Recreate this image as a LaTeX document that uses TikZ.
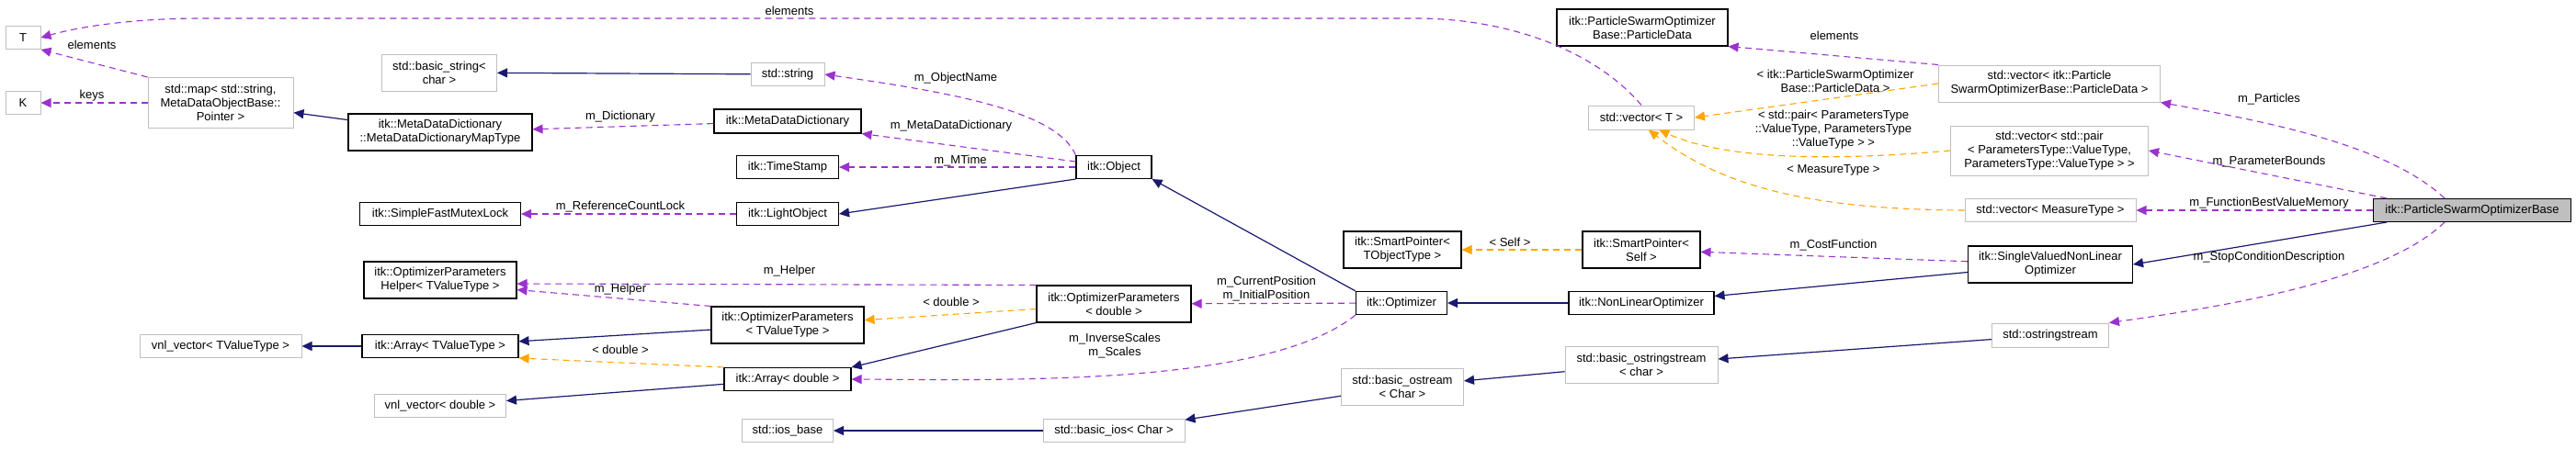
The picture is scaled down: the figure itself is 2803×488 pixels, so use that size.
\documentclass[tikz,border=0pt]{standalone}
\usepackage{fontspec}
\setmainfont{Liberation Sans}
\usetikzlibrary{arrows.meta}
\definecolor{navy}{HTML}{191970}
\definecolor{purp}{HTML}{9A32CD}
\definecolor{orng}{HTML}{FFA500}
\definecolor{gbord}{HTML}{BFBFBF}
\begin{document}
\begin{tikzpicture}[x=1pt,y=-1pt,
  every node/.style={font=\fontsize{13}{15}\selectfont, inner sep=0pt, align=center},
  ext/.style={draw=gbord, line width=1pt, fill=white},
  doc/.style={draw=black, line width=1.1pt, fill=white},
  lab/.style={fill=none},
  tip/.style={-{Triangle[length=11pt,width=10pt]}},
  inh/.style={navy, line width=1.2pt, tip},
  use/.style={purp, line width=1.1pt, dash pattern=on 7pt off 5pt, tip},
  tpl/.style={orng, line width=1.1pt, dash pattern=on 7pt off 5pt, tip}]
\useasboundingbox (0,0) rectangle (2803,488);
% nodes
\node[ext, minimum width=38, minimum height=25] (T) at (25,41) {T};
\node[ext, minimum width=38, minimum height=25] (K) at (25,112) {K};
\node[ext, minimum width=158, minimum height=55] (map) at (240,112) {std::map\textless{} std::string,\\MetaDataObjectBase::\\Pointer \textgreater{}};
\node[ext, minimum width=125, minimum height=40] (bstr) at (478,79) {std::basic\_string\textless{}\\char \textgreater{}};
\node[ext, minimum width=80, minimum height=25] (str) at (857,81) {std::string};
\node[doc, minimum width=200, minimum height=40] (mapt) at (479,144) {itk::MetaDataDictionary\\::MetaDataDictionaryMapType};
\node[doc, minimum width=160, minimum height=26] (mdd) at (857,132) {itk::MetaDataDictionary};
\node[doc, minimum width=111, minimum height=25] (ts) at (857,182) {itk::TimeStamp};
\node[doc, minimum width=175, minimum height=25] (mutex) at (479,233) {itk::SimpleFastMutexLock};
\node[doc, minimum width=111, minimum height=25] (lo) at (857,233) {itk::LightObject};
\node[doc, minimum width=166, minimum height=40] (oph) at (479,305) {itk::OptimizerParameters\\Helper\textless{} TValueType \textgreater{}};
\node[doc, minimum width=166, minimum height=40] (opt) at (857,354) {itk::OptimizerParameters\\\textless{} TValueType \textgreater{}};
\node[ext, minimum width=176, minimum height=25] (vnlt) at (240,377) {vnl\_vector\textless{} TValueType \textgreater{}};
\node[doc, minimum width=170, minimum height=25] (arrt) at (479,377) {itk::Array\textless{} TValueType \textgreater{}};
\node[doc, minimum width=138, minimum height=25] (arrd) at (857,413) {itk::Array\textless{} double \textgreater{}};
\node[ext, minimum width=143, minimum height=25] (vnld) at (479,442) {vnl\_vector\textless{} double \textgreater{}};
\node[ext, minimum width=99, minimum height=25] (iosb) at (857,469) {std::ios\_base};
\node[doc, minimum width=82, minimum height=25] (obj) at (1212,182) {itk::Object};
\node[doc, minimum width=168, minimum height=40] (opd) at (1212,331) {itk::OptimizerParameters\\\textless{} double \textgreater{}};
\node[ext, minimum width=154, minimum height=25] (bios) at (1212,469) {std::basic\_ios\textless{} Char \textgreater{}};
\node[doc, minimum width=99, minimum height=25] (optz) at (1525,330) {itk::Optimizer};
\node[doc, minimum width=128, minimum height=40] (spt) at (1526,272) {itk::SmartPointer\textless{}\\TObjectType \textgreater{}};
\node[ext, minimum width=133, minimum height=40] (bos) at (1526,421) {std::basic\_ostream\\\textless{} Char \textgreater{}};
\node[doc, minimum width=186, minimum height=40] (pd) at (1787,30) {itk::ParticleSwarmOptimizer\\Base::ParticleData};
\node[ext, minimum width=115, minimum height=26] (vT) at (1786,128) {std::vector\textless{} T \textgreater{}};
\node[doc, minimum width=128, minimum height=40] (sps) at (1786,272) {itk::SmartPointer\textless{}\\Self \textgreater{}};
\node[doc, minimum width=158, minimum height=25] (nlo) at (1786,330) {itk::NonLinearOptimizer};
\node[ext, minimum width=166, minimum height=40] (boss) at (1786,397) {std::basic\_ostringstream\\\textless{} char \textgreater{}};
\node[ext, minimum width=241, minimum height=40] (vpd) at (2230,91) {std::vector\textless{} itk::Particle\\SwarmOptimizerBase::ParticleData \textgreater{}};
\node[ext, minimum width=215, minimum height=54] (vpair) at (2230,164) {std::vector\textless{} std::pair\\\textless{} ParametersType::ValueType,\\ParametersType::ValueType \textgreater{} \textgreater{}};
\node[ext, minimum width=186, minimum height=25] (vmt) at (2231,229) {std::vector\textless{} MeasureType \textgreater{}};
\node[doc, minimum width=179, minimum height=40] (svnlo) at (2231,288) {itk::SingleValuedNonLinear\\Optimizer};
\node[ext, minimum width=127, minimum height=26] (oss) at (2231,365) {std::ostringstream};
\node[draw=black, line width=1.1pt, fill=gbord, minimum width=215, minimum height=25] (pso) at (2690,229) {itk::ParticleSwarmOptimizerBase};
% edges
\draw[use] (vT.north) .. controls (1740,60) and (1650,20) .. (1540,20) -- (220,20) .. controls (150,20) and (90,28) .. (T.east);
\draw[use] (map.north west) -- (T.south east);
\draw[use] (map.west |- K.east) -- (K.east);
\draw[inh] (mapt) -- (map);
\draw[inh] (str) -- (bstr);
\draw[use] (obj.north west) .. controls (1150,120) and (1030,100) .. (str.east);
\draw[use] (mdd) -- (mapt);
\draw[use] (obj.west) ++(0,-6) -- (mdd.south east);
\draw[use] (obj) -- (ts);
\draw[inh] (obj.south west) -- (lo.east);
\draw[use] (lo) -- (mutex);
\draw[use] (opd.north west) -- ([yshift=-4]oph.east);
\draw[use] (opt.north west) -- ([yshift=10]oph.south east);
\draw[tpl] (opd) -- (opt);
\draw[inh] (arrt) -- (vnlt);
\draw[inh] (opt) -- (arrt);
\draw[tpl] (arrd.north west) -- (arrt.south east);
\draw[inh] (opd.south west) -- (arrd.north east);
\draw[inh] (arrd) -- (vnld);
\draw[inh] (bios) -- (iosb);
\draw[use] (optz.south west) .. controls (1380,420) and (1100,414) .. (arrd.east);
\draw[use] (optz) -- (opd);
\draw[inh] (optz.north west) -- (obj.south east);
\draw[inh] (bos) -- (bios);
\draw[inh] (boss) -- (bos);
\draw[tpl] (sps) -- (spt);
\draw[inh] (nlo) -- (optz);
\draw[use] (vpd.north west) -- (pd.south east);
\draw[tpl] (vpd.west) -- (vT.east);
\draw[tpl] (vpair.west) .. controls (2000,175) and (1880,175) .. (vT.-35);
\draw[tpl] (vmt.west) .. controls (1960,228) and (1870,200) .. (vT.-60);
\draw[use] (svnlo) -- (sps);
\draw[inh] (svnlo) -- (nlo);
\draw[inh] (oss) -- (boss);
\draw[use] (pso.north) ++(-30,0) .. controls (2600,160) and (2480,135) .. (vpd.south east);
\draw[use] (pso.north west) ++(15,0) -- (vpair.east);
\draw[use] (pso) -- (vmt);
\draw[inh] (pso.south west) ++(15,0) -- (svnlo.east);
\draw[use] (pso.south) ++(-30,0) .. controls (2600,300) and (2450,330) .. (oss.north east);
% labels
\node[lab] (l1) at (859,12) {elements};
\node[lab] (l2) at (100,49) {elements};
\node[lab] (l3) at (100,104) {keys};
\node[lab] (l4) at (1040,85) {m\_ObjectName};
\node[lab] (l5) at (675,127) {m\_Dictionary};
\node[lab] (l6) at (1035,137) {m\_MetaDataDictionary};
\node[lab] (l7) at (1045,175) {m\_MTime};
\node[lab] (l8) at (675,225) {m\_ReferenceCountLock};
\node[lab] (l9) at (859,295) {m\_Helper};
\node[lab] (l10) at (675,315) {m\_Helper};
\node[lab] (l11) at (1035,329) {\textless{} double \textgreater{}};
\node[lab] (l12) at (675,381) {\textless{} double \textgreater{}};
\node[lab] (l13) at (1378,315) {m\_CurrentPosition\\m\_InitialPosition};
\node[lab] (l14) at (1213,377) {m\_InverseScales\\m\_Scales};
\node[lab] (l15) at (1643,264) {\textless{} Self \textgreater{}};
\node[lab] (l16) at (1996,39) {elements};
\node[lab] (l17) at (1997,88) {\textless{} itk::ParticleSwarmOptimizer\\Base::ParticleData \textgreater{}};
\node[lab] (l18) at (1995,141) {\textless{} std::pair\textless{} ParametersType\\::ValueType, ParametersType\\::ValueType \textgreater{} \textgreater{}};
\node[lab] (l19) at (1995,185) {\textless{} MeasureType \textgreater{}};
\node[lab] (l20) at (1995,267) {m\_CostFunction};
\node[lab] (l21) at (2469,108) {m\_Particles};
\node[lab] (l22) at (2469,176) {m\_ParameterBounds};
\node[lab] (l23) at (2469,221) {m\_FunctionBestValueMemory};
\node[lab] (l24) at (2469,280) {m\_StopConditionDescription};
\end{tikzpicture}
\end{document}
